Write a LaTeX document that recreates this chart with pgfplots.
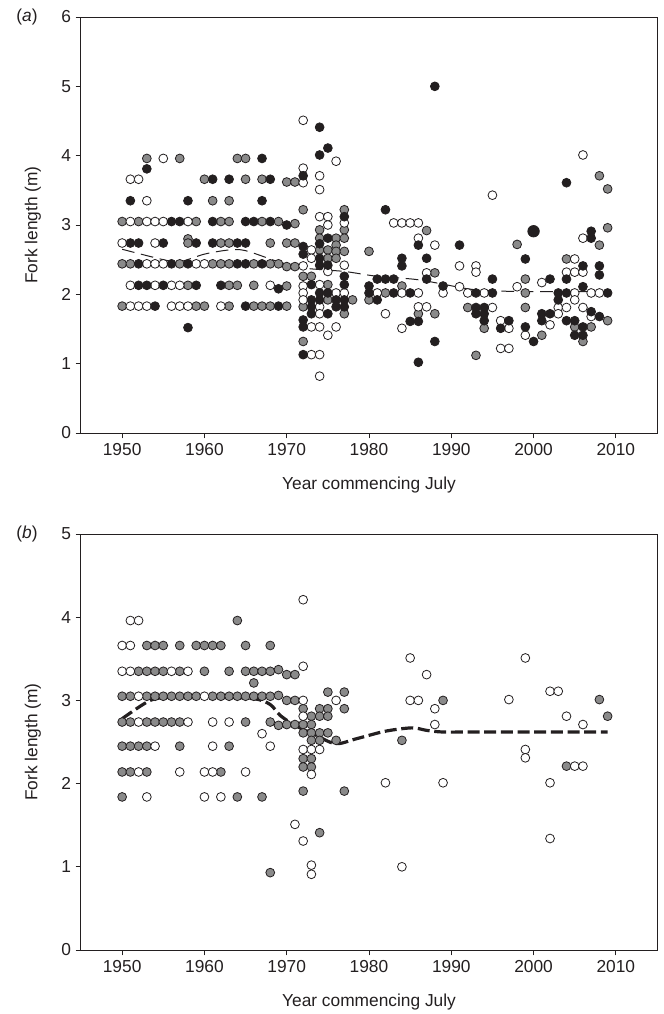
\documentclass[border=0pt]{standalone}
\usepackage{pgfplots}
\pgfplotsset{compat=1.18}
\usepackage{fontspec}
\setmainfont{Liberation Sans}
\definecolor{ink}{RGB}{35,31,32}
\definecolor{gfill}{RGB}{138,138,138}
\pgfplotsset{
  panel/.style={
    scale only axis, width=432pt, height=312pt,
    xmin=1945, xmax=2015,
    xtick={1950,1960,...,2010},
    tick align=outside, xtick pos=left, ytick pos=left,
    major tick length=4pt,
    axis line style={ink, line width=0.75pt},
    every tick/.style={ink, line width=0.75pt},
    /pgf/number format/assume math mode=true,
    /pgf/number format/1000 sep={},
    tick label style={font=\fontsize{13}{15}\selectfont, text=ink},
    label style={font=\fontsize{13}{15}\selectfont, text=ink},
    xlabel={Year commencing July},
    ylabel={Fork length (m)},
    xlabel style={at={(axis description cs:0.5,0)}, anchor=center, yshift=-39pt},
    ylabel style={at={(axis description cs:0,0.5)}, anchor=center, yshift=36pt},
    clip=false,
  },
  pt/.style={only marks, mark=*, mark size=3.3pt, mark options={draw=ink, line width=0.6pt}},
  grey/.style={pt, mark options={draw=ink, fill=gfill, line width=0.6pt}},
  white/.style={pt, mark options={draw=ink, fill=white, line width=0.6pt}},
  black/.style={pt, mark options={draw=ink, fill=ink, line width=0.6pt}},
}
\begin{document}
\begin{tikzpicture}
\useasboundingbox (-60.75pt,-435.75pt) rectangle (437.25pt,324.75pt);
% ---------------- panel (a)
\begin{axis}[panel, ymin=0, ymax=6, ytick={0,1,...,6}]
\addplot[grey] coordinates {
(1953,3.96)(1957,3.96)(1964,3.96)(1965,3.96)
(1960,3.66)(1965,3.66)(1967,3.66)(1970,3.62)(1971,3.62)
(1961,3.35)(1963,3.35)
(1950,3.05)(1952,3.05)(1959,3.05)(1962,3.05)(1963,3.05)(1967,3.05)(1969,3.05)(1971,3.02)
(1958,2.80)(1958,2.74)(1962,2.74)(1963,2.74)(1968,2.74)(1970,2.74)(1971,2.74)
(1950,2.44)(1951,2.44)(1957,2.44)(1961,2.44)(1962,2.44)(1963,2.44)(1966,2.44)(1968,2.44)(1969,2.44)(1970,2.40)(1971,2.40)
(1958,2.13)(1963,2.13)(1964,2.13)(1966,2.13)(1970,2.12)
(1950,1.83)(1959,1.83)(1960,1.83)(1963,1.83)(1966,1.83)(1967,1.83)(1968,1.83)(1970,1.83)
(1972,3.22)(1972,2.26)(1972,1.82)(1972,1.32)(1973,2.26)(1974,2.93)(1974,2.81)(1974,2.64)(1975,2.64)(1975,2.52)(1975,2.14)(1975,1.92)
(1976,2.81)(1976,2.71)(1976,2.62)(1976,2.52)(1977,3.22)(1977,2.93)(1977,2.81)(1977,2.62)(1977,1.72)(1978,1.92)
(1980,2.62)(1980,1.92)(1982,2.02)(1984,2.12)(1986,1.72)(1987,2.92)(1988,2.31)(1988,1.72)
(1992,1.81)(1993,1.12)(1994,1.51)(1998,2.72)(1999,2.22)(1999,2.02)(1999,1.81)(2001,1.41)(2004,2.51)(2005,1.53)(2006,1.32)(2007,1.53)
(2008,3.71)(2008,2.71)(2009,3.52)(2009,2.96)(2009,1.62)
};
\addplot[white] coordinates {
(1955,3.96)(1951,3.66)(1952,3.66)(1953,3.35)
(1951,3.05)(1953,3.05)(1954,3.05)(1955,3.05)(1958,3.05)
(1950,2.74)(1954,2.74)
(1953,2.44)(1954,2.44)(1955,2.44)(1959,2.44)(1960,2.44)
(1951,2.13)(1954,2.13)(1956,2.13)(1957,2.13)(1968,2.13)
(1951,1.83)(1952,1.83)(1953,1.83)(1956,1.83)(1957,1.83)(1958,1.83)(1962,1.83)
(1972,4.51)(1972,3.82)(1972,3.61)(1972,2.41)(1972,2.12)(1972,2.02)(1972,1.92)(1973,2.64)(1973,2.52)(1973,1.53)(1973,1.13)
(1974,3.71)(1974,3.51)(1974,3.12)(1974,2.14)(1974,1.82)(1974,1.72)(1974,1.53)(1974,1.13)(1974,0.82)
(1975,3.12)(1975,3.00)(1975,2.33)(1975,1.41)(1976,3.92)(1976,2.02)(1976,1.53)(1977,3.03)(1977,2.42)(1977,2.02)
(1981,2.02)(1982,1.72)(1983,3.03)(1984,3.03)(1984,2.02)(1984,1.51)(1985,3.03)(1986,3.03)(1986,2.81)(1986,2.02)(1986,1.82)
(1987,2.31)(1987,1.82)(1988,2.71)(1989,2.02)
(1991,2.41)(1991,2.11)(1992,2.02)(1993,2.41)(1993,2.32)(1994,2.02)(1995,3.43)(1995,1.81)(1996,1.62)(1996,1.22)(1997,1.51)(1997,1.22)
(1998,2.11)(1999,1.41)(2001,2.17)(2002,1.56)(2003,1.81)(2003,1.72)(2004,2.32)(2004,1.81)(2005,2.51)(2005,2.32)(2005,2.02)(2005,1.92)
(2006,4.01)(2006,2.81)(2006,2.32)(2006,1.81)(2007,2.02)(2007,1.68)(2008,2.02)
};
\addplot[black] coordinates {
(1967,3.96)(1953,3.81)(1961,3.66)(1963,3.66)(1968,3.66)
(1951,3.35)(1958,3.35)(1967,3.35)
(1956,3.05)(1957,3.05)(1961,3.05)(1965,3.05)(1966,3.05)(1968,3.05)(1970,3.00)
(1951,2.74)(1952,2.74)(1955,2.74)(1959,2.74)(1961,2.74)(1964,2.74)(1965,2.74)
(1952,2.44)(1956,2.44)(1958,2.44)(1964,2.44)(1965,2.44)(1967,2.44)
(1952,2.13)(1953,2.13)(1955,2.13)(1959,2.13)(1962,2.13)(1969,2.08)
(1954,1.83)(1965,1.83)(1969,1.83)
(1958,1.52)
(1972,3.71)(1972,2.69)(1972,2.58)(1972,1.63)(1972,1.53)(1972,1.13)(1973,2.14)(1973,1.92)(1973,1.82)(1973,1.72)
(1974,4.41)(1974,4.01)(1974,2.73)(1974,2.52)(1974,2.42)(1974,2.02)(1974,1.92)
(1975,4.11)(1975,2.81)(1975,2.42)(1975,2.02)(1975,1.72)(1976,1.92)(1976,1.82)
(1977,3.12)(1977,2.26)(1977,2.14)(1977,1.92)(1977,1.82)
(1980,2.12)(1980,2.02)(1981,2.22)(1981,1.92)(1982,3.22)(1982,2.22)(1983,2.22)(1983,2.02)(1984,2.52)(1984,2.41)
(1985,2.02)(1985,1.61)(1986,2.71)(1986,1.61)(1986,1.02)(1987,2.52)(1987,2.22)(1988,5.00)(1988,1.32)(1989,2.12)
(1991,2.71)(1993,2.02)(1993,1.81)(1993,1.72)(1994,1.81)(1994,1.72)(1994,1.62)(1995,2.22)(1995,2.02)(1996,1.51)(1997,1.62)
(1999,2.51)(1999,1.53)(2000,1.32)(2001,1.72)(2001,1.62)(2002,2.22)(2002,1.72)(2003,2.02)(2003,1.92)
(2004,3.61)(2004,2.22)(2004,2.02)(2004,1.62)(2005,1.62)(2005,1.41)(2006,2.41)(2006,2.11)(2006,1.53)(2006,1.41)
(2007,2.91)(2007,2.81)(2007,1.75)(2008,2.41)(2008,2.28)(2008,1.68)(2009,2.02)
};
\addplot[black, mark size=4.3pt] coordinates {(2000,2.91)};
\addplot[ink, line width=0.75pt, dash pattern=on 9.5pt off 5pt, smooth] coordinates {
(1950,2.65)(1955,2.50)(1957,2.47)(1960,2.58)(1963,2.64)(1965,2.63)(1969,2.47)(1972,2.38)(1977,2.33)(1981,2.26)(1986,2.21)(1992,2.08)(1995,2.05)(2000,2.04)(2009,2.04)
};
\end{axis}
\node[font=\fontsize{13}{15}\selectfont, text=ink] at (-40.5pt,312pt) {(\textit{a})};
% ---------------- panel (b)
\begin{axis}[panel, at={(0pt,-387.75pt)}, ymin=0, ymax=5, ytick={0,1,...,5}]
\addplot[grey] coordinates {
(1964,3.96)
(1953,3.66)(1954,3.66)(1955,3.66)(1957,3.66)(1959,3.66)(1960,3.66)(1961,3.66)(1962,3.66)(1965,3.66)(1968,3.66)
(1952,3.35)(1953,3.35)(1954,3.35)(1955,3.35)(1957,3.35)(1960,3.35)(1963,3.35)(1965,3.35)(1966,3.35)(1967,3.35)(1968,3.35)(1969,3.37)(1970,3.31)(1971,3.31)
(1966,3.21)
(1950,3.05)(1951,3.05)(1953,3.05)(1954,3.05)(1955,3.05)(1956,3.05)(1957,3.05)(1958,3.05)(1959,3.05)(1961,3.05)(1962,3.05)(1963,3.05)(1964,3.05)(1965,3.05)(1966,3.05)(1967,3.05)(1968,3.05)(1969,3.06)(1970,3.00)(1971,3.00)
(1950,2.74)(1951,2.74)(1953,2.74)(1954,2.74)(1955,2.74)(1956,2.74)(1957,2.74)(1965,2.74)(1968,2.74)(1969,2.70)(1970,2.71)(1971,2.71)
(1950,2.45)(1951,2.45)(1952,2.45)(1953,2.45)(1957,2.45)(1963,2.45)
(1950,2.14)(1951,2.14)(1953,2.14)(1962,2.14)
(1950,1.84)(1964,1.84)(1967,1.84)
(1972,2.90)(1972,2.71)(1972,2.61)(1972,2.30)(1972,2.20)(1972,1.91)
(1973,2.81)(1973,2.71)(1973,2.61)(1973,2.52)(1973,2.30)(1973,2.20)
(1974,2.90)(1974,2.81)(1974,2.61)(1974,2.52)(1974,1.41)
(1975,3.10)(1975,2.90)(1975,2.81)(1975,2.61)(1976,2.52)(1977,3.10)(1977,2.90)(1977,1.91)(1968,0.93)
(1984,2.52)(1989,3.00)(2004,2.21)(2008,3.01)(2009,2.81)
};
\addplot[white] coordinates {
(1951,3.96)(1952,3.96)(1950,3.66)(1951,3.66)(1950,3.35)(1951,3.35)(1956,3.35)(1958,3.35)
(1952,3.05)(1960,3.05)(1972,3.00)
(1952,2.74)(1958,2.74)(1961,2.74)(1963,2.74)(1967,2.60)
(1954,2.45)(1961,2.45)(1968,2.45)
(1952,2.14)(1957,2.14)(1960,2.14)(1961,2.14)(1965,2.14)
(1953,1.84)(1960,1.84)(1962,1.84)
(1972,4.21)(1972,3.41)(1972,2.81)(1972,2.41)(1972,1.31)(1971,1.51)(1973,2.41)(1973,2.11)(1973,1.02)(1973,0.91)(1974,2.41)(1976,3.00)
(1982,2.01)(1984,1.00)(1985,3.51)(1985,3.00)(1986,3.00)(1987,3.31)(1988,2.90)(1988,2.71)(1989,2.01)
(1997,3.01)(1999,3.51)(1999,2.41)(1999,2.31)(2002,3.11)(2002,2.01)(2002,1.34)(2003,3.11)(2004,2.81)(2005,2.21)(2006,2.71)(2006,2.21)
};
\addplot[ink, line width=2.4pt, dash pattern=on 9pt off 3.5pt, smooth] coordinates {
(1950,2.78)(1953.4,3.00)(1956,3.04)(1960,3.05)(1966,3.02)(1968,2.95)(1969.2,2.82)(1971,2.70)(1973.2,2.60)(1975.9,2.48)(1978.5,2.54)(1982,2.63)(1985.2,2.67)(1987,2.64)(1989,2.62)(1993,2.62)(2009,2.62)
};
\end{axis}
\node[font=\fontsize{13}{15}\selectfont, text=ink] at (-40.5pt,-75.75pt) {(\textit{b})};
\end{tikzpicture}
\end{document}
